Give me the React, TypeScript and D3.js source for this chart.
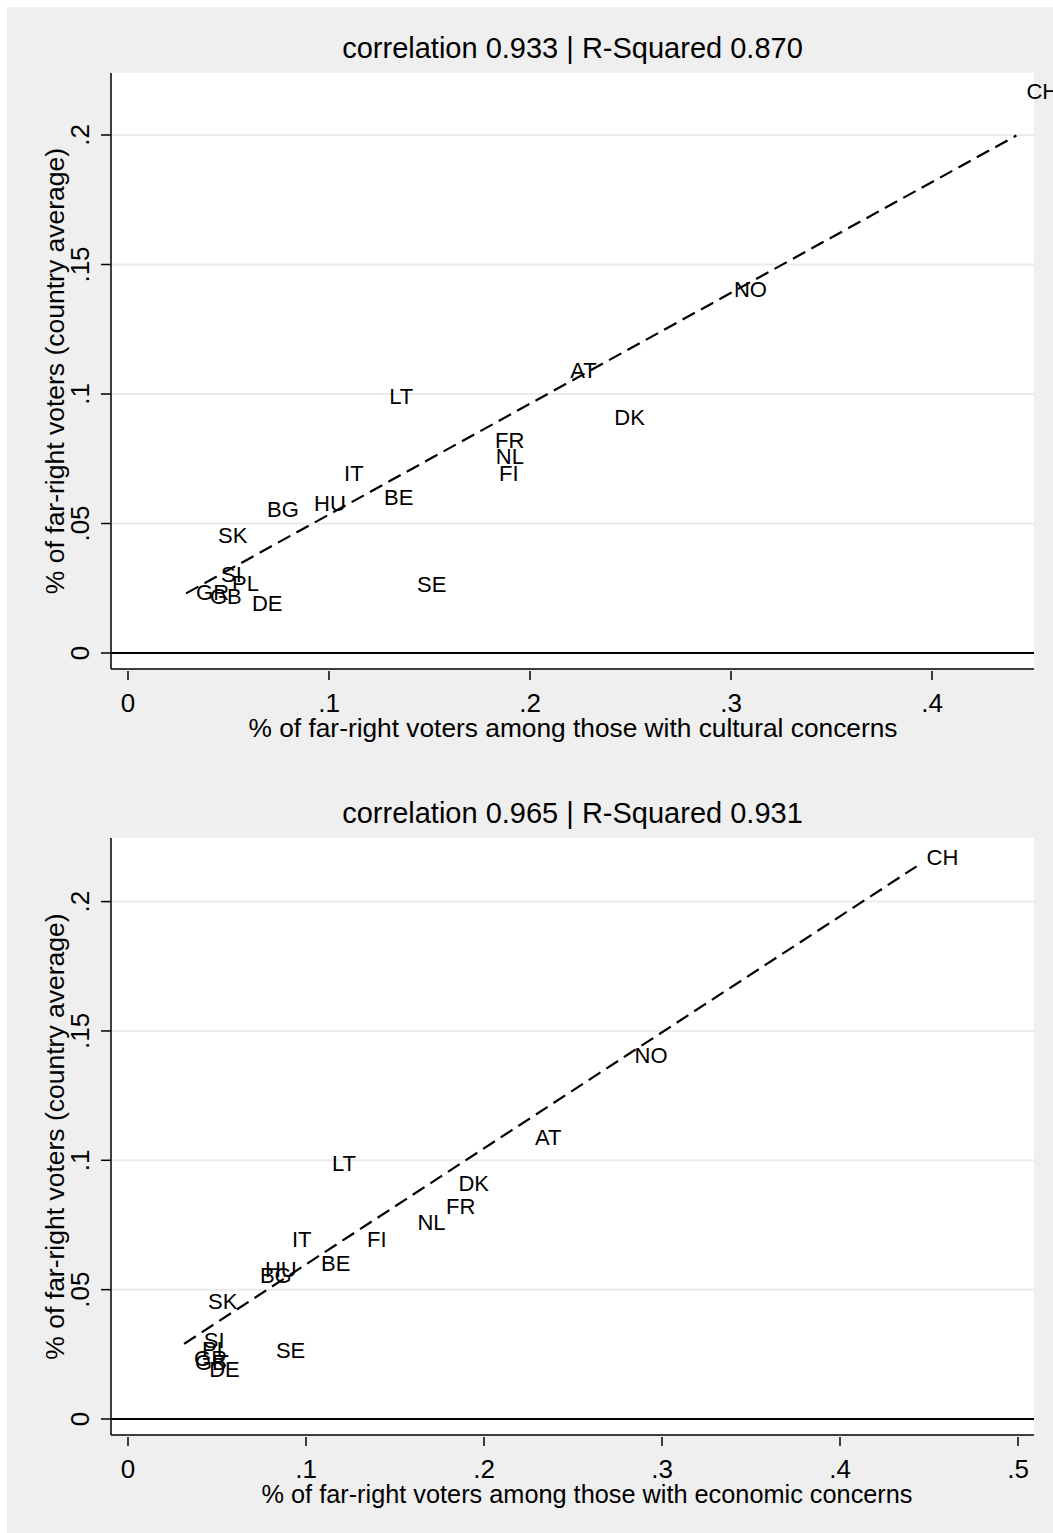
import React from "react";
import * as d3 from "d3";

const countries = ["CH", "NO", "AT", "LT", "DK", "FR", "NL", "FI", "IT", "BE", "HU", "BG", "SK", "SI", "PL", "SE", "GR", "GB", "DE"];
const farRightAvg = [0.217, 0.1405, 0.109, 0.099, 0.0911, 0.0822, 0.0761, 0.0695, 0.0695, 0.0602, 0.0578, 0.0556, 0.0456, 0.0305, 0.027, 0.0265, 0.0236, 0.0218, 0.0193];
const culturalShare = [0.442, 0.2965, 0.215, 0.125, 0.237, 0.1776, 0.178, 0.1796, 0.1025, 0.1224, 0.0876, 0.0642, 0.0398, 0.0413, 0.0468, 0.1388, 0.0289, 0.0358, 0.0567];
const economicShare = [0.443, 0.279, 0.223, 0.109, 0.18, 0.173, 0.157, 0.1287, 0.0865, 0.1028, 0.0713, 0.0685, 0.0393, 0.037, 0.036, 0.0775, 0.0315, 0.032, 0.04];

const yTicks = [0, 0.05, 0.1, 0.15, 0.2];
const yTickLabels = ["0", ".05", ".1", ".15", ".2"];
const xTicksTop = [0, 0.1, 0.2, 0.3, 0.4];
const xTickLabelsTop = ["0", ".1", ".2", ".3", ".4"];
const xTicksBottom = [0, 0.1, 0.2, 0.3, 0.4, 0.5];
const xTickLabelsBottom = ["0", ".1", ".2", ".3", ".4", ".5"];

const titles = ["correlation 0.933 | R-Squared 0.870", "correlation 0.965 | R-Squared 0.931"];
const xTitles = ["% of far-right voters among those with cultural concerns", "% of far-right voters among those with economic concerns"];
const yTitle = "% of far-right voters (country average)";

const FONT = "'Liberation Sans', Arial, Helvetica, sans-serif";

type PanelProps = {
  xs: number[];
  top: number;
  bottom: number;
  xPerTenth: number;
  yZero: number;
  yPerTwentieth: number;
  xTicks: number[];
  xTickLabels: string[];
  title: string;
  xTitle: string;
  xTitleSize: number;
  xTitleCenter: number;
};

function Panel(p: PanelProps) {
  const left = 111;
  const right = 1034;
  const x = d3.scaleLinear().domain([0, 0.1]).range([128, 128 + p.xPerTenth]);
  const y = d3.scaleLinear().domain([0, 0.05]).range([p.yZero, p.yZero - p.yPerTwentieth]);

  // least squares fit
  const n = p.xs.length;
  const mx = d3.mean(p.xs)!;
  const my = d3.mean(farRightAvg)!;
  let sxy = 0, sxx = 0;
  for (let i = 0; i < n; i++) {
    sxy += (p.xs[i] - mx) * (farRightAvg[i] - my);
    sxx += (p.xs[i] - mx) ** 2;
  }
  const b = sxy / sxx;
  const a = my - b * mx;
  const [x0, x1] = d3.extent(p.xs) as [number, number];
  const line = d3.line<number>().x((v) => x(v)).y((v) => y(a + b * v));

  return (
    <g>
      <rect x={left} y={p.top} width={right - left} height={p.bottom - p.top} fill="#ffffff" />
      {yTicks.filter((t) => t !== 0).map((t) => (
        <line key={t} x1={left} x2={right} y1={y(t)} y2={y(t)} stroke="#ebebeb" strokeWidth={2} />
      ))}
      <line x1={left} x2={right} y1={y(0)} y2={y(0)} stroke="#000" strokeWidth={2} />
      <path d={line([x0, x1]) || ""} fill="none" stroke="#000" strokeWidth={2.2} strokeDasharray="14,7" />
      {countries.map((c, i) => (
        <text key={c} x={x(p.xs[i]) + 10} y={y(farRightAvg[i])} dy="0.35em" fontSize={22} fontFamily={FONT} fill="#000">
          {c}
        </text>
      ))}
      {/* axes */}
      <line x1={left} x2={left} y1={p.top} y2={p.bottom} stroke="#000" strokeWidth={1.5} />
      <line x1={left} x2={right} y1={p.bottom} y2={p.bottom} stroke="#000" strokeWidth={1.5} />
      {yTicks.map((t, i) => (
        <g key={t}>
          <line x1={left - 10} x2={left} y1={y(t)} y2={y(t)} stroke="#000" strokeWidth={1.5} />
          <text transform={`translate(${89},${y(t)}) rotate(-90)`} textAnchor="middle" fontSize={26} fontFamily={FONT} fill="#000">
            {yTickLabels[i]}
          </text>
        </g>
      ))}
      {p.xTicks.map((t, i) => (
        <g key={t}>
          <line x1={x(t)} x2={x(t)} y1={p.bottom + 2} y2={p.bottom + 11} stroke="#000" strokeWidth={1.5} />
          <text x={x(t)} y={p.bottom + 43} textAnchor="middle" fontSize={26} fontFamily={FONT} fill="#000">
            {p.xTickLabels[i]}
          </text>
        </g>
      ))}
      <text x={p.xTitleCenter} y={p.bottom + 68} textAnchor="middle" fontSize={p.xTitleSize} fontFamily={FONT} fill="#000">
        {p.xTitle}
      </text>
      <text transform={`translate(${64},${(p.top + p.bottom) / 2}) rotate(-90)`} textAnchor="middle" fontSize={26.5} fontFamily={FONT} fill="#000">
        {yTitle}
      </text>
      <text x={(left + right) / 2} y={p.top - 15} textAnchor="middle" fontSize={29} fontFamily={FONT} fill="#000">
        {p.title}
      </text>
    </g>
  );
}

export default function App() {
  return (
    <svg width={1053} height={1533} style={{ position: "absolute", left: 0, top: 0 }}>
      <rect x={0} y={0} width={1053} height={1533} fill="#ffffff" />
      <rect x={7} y={7} width={1046} height={1526} fill="#efefef" />
      <Panel
        xs={culturalShare}
        top={73}
        bottom={669}
        xPerTenth={201}
        yZero={653}
        yPerTwentieth={129.5}
        xTicks={xTicksTop}
        xTickLabels={xTickLabelsTop}
        title={titles[0]}
        xTitle={xTitles[0]}
        xTitleSize={26.3}
        xTitleCenter={573}
      />
      <Panel
        xs={economicShare}
        top={838}
        bottom={1435}
        xPerTenth={178}
        yZero={1419}
        yPerTwentieth={129.35}
        xTicks={xTicksBottom}
        xTickLabels={xTickLabelsBottom}
        title={titles[1]}
        xTitle={xTitles[1]}
        xTitleSize={25.3}
        xTitleCenter={587}
      />
    </svg>
  );
}
